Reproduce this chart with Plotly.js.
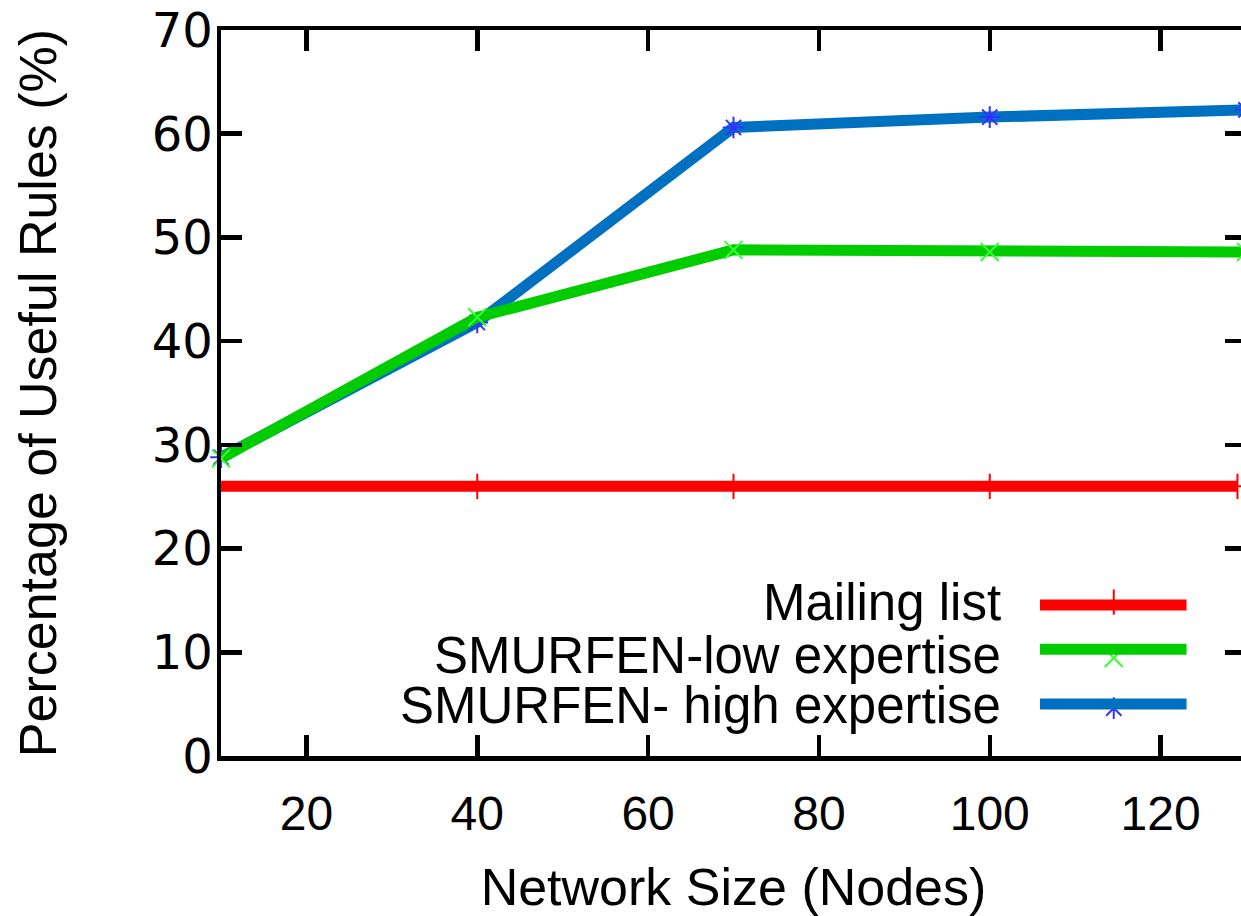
<!DOCTYPE html>
<html>
<head>
<meta charset="utf-8">
<script src="https://cdn.plot.ly/plotly-3.0.1.min.js"></script>
<style>
html, body { margin: 0; padding: 0; overflow: hidden; background: #fff; }
#chart { width: 1250px; height: 916px; }
</style>
</head>
<body>
<div id="chart"></div>
<script>
// ---- data ----
const nodes = [10, 40, 70, 100, 130];
const mailingNodes = [9, 40, 70, 100, 129];
const mailingList = [26.0, 26.0, 26.0, 26.0, 26.0];
const lowExpertise = [28.7, 42.3, 48.8, 48.6, 48.6];
const highExpertise = [28.8, 41.8, 60.6, 61.6, 62.3];
const seriesNames = ["Mailing list", "SMURFEN-low expertise", "SMURFEN- high expertise"];
const xTicks = [20, 40, 60, 80, 100, 120];
const yTicks = [0, 10, 20, 30, 40, 50, 60, 70];

const lineColors = ["#ff0000", "#00cc00", "#0070c0"];
const markerColors = ["#ff0000", "#33ff33", "#3333ff"];
const symbols = ["cross-thin-open", "x-thin-open", "asterisk-open"];
const LW = 11;

function series(x, y, i) {
  return {
    x: x, y: y, type: "scatter", mode: "lines+markers", name: seriesNames[i],
    line: { color: lineColors[i], width: LW },
    marker: { symbol: symbols[i], size: 18, color: markerColors[i], line: { color: markerColors[i], width: 2 } },
    cliponaxis: false, showlegend: false, hoverinfo: "skip"
  };
}

const traces = [
  series(mailingNodes, mailingList, 0),
  series(nodes, highExpertise, 2),
  series(nodes, lowExpertise, 1)
];

// ---- legend keys (drawn on a paper-like overlay axis) ----
const legText = [0.212, 0.139, 0.069];
const legLine = [0.208, 0.147, 0.0716];
const legMark = [0.212, 0.135, 0.066];
const legX0 = 0.799, legX1 = 0.942, legXm = 0.871, legTextX = 0.763;

const shapes = [];
const annotations = [];
for (let i = 0; i < 3; i++) {
  shapes.push({ type: "line", xref: "paper", yref: "paper", x0: legX0, x1: legX1, y0: legLine[i], y1: legLine[i],
    line: { color: lineColors[i], width: LW } });
  annotations.push({ xref: "paper", yref: "paper", x: legTextX, y: legText[i], xanchor: "right", yanchor: "middle",
    text: seriesNames[i], showarrow: false, font: { family: "Liberation Sans, Arial, sans-serif", size: 51, color: "#000" } });
}
traces.push({
  x: [legXm, legXm, legXm], y: legMark, xaxis: "x2", yaxis: "y2", type: "scatter", mode: "markers",
  marker: { symbol: symbols, size: 18, color: markerColors, line: { color: markerColors, width: 2 } },
  showlegend: false, hoverinfo: "skip", cliponaxis: false
});

const axisCommon = {
  showline: true, linecolor: "#000", linewidth: 4.5, mirror: "ticks",
  ticks: "inside", ticklen: 21, tickwidth: 4.5, tickcolor: "#000",
  showgrid: false, zeroline: false, fixedrange: true
};

const layout = {
  width: 1250, height: 916,
  margin: { l: 221, r: 4, t: 30, b: 160 },
  paper_bgcolor: "#fff", plot_bgcolor: "#fff",
  showlegend: false,
  font: { family: "Liberation Sans, Arial, sans-serif", color: "#000" },
  xaxis: Object.assign({}, axisCommon, {
    range: [10, 130], tickvals: xTicks, ticktext: xTicks.map(String),
    tickfont: { family: "Liberation Sans Narrow, Liberation Sans, Arial, sans-serif", size: 48 },
    ticklabelstandoff: 12,
    title: { text: "Network Size (Nodes)", font: { size: 52 }, standoff: 38 }
  }),
  yaxis: Object.assign({}, axisCommon, {
    range: [0, 70], tickvals: yTicks, ticktext: yTicks.map(String),
    tickfont: { family: "DejaVu Sans, Liberation Sans, Arial, sans-serif", size: 48 },
    ticklabelstandoff: -6,
    title: { text: "Percentage of Useful Rules (%)", font: { size: 52 }, standoff: 80 }
  }),
  xaxis2: { overlaying: "x", range: [0, 1], visible: false, fixedrange: true },
  yaxis2: { overlaying: "y", range: [0, 1], visible: false, fixedrange: true },
  shapes: shapes,
  annotations: annotations
};

Plotly.newPlot("chart", traces, layout, { displayModeBar: false, staticPlot: true });
</script>
</body>
</html>
